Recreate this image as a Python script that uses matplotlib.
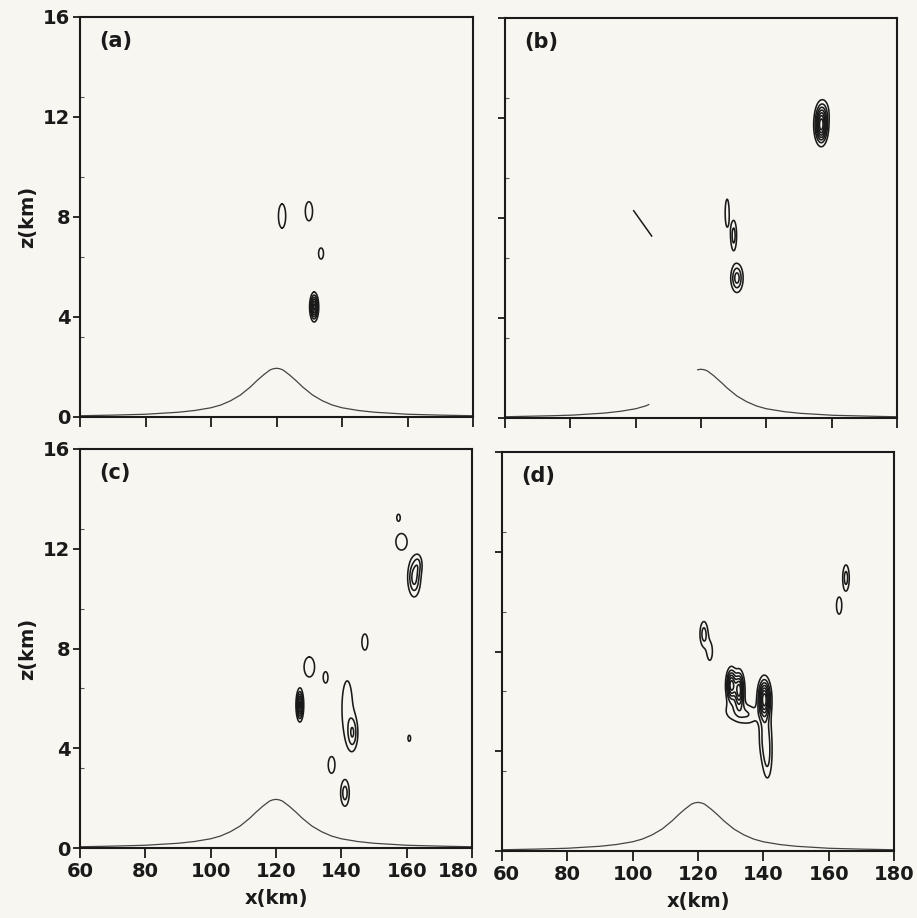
import numpy as np
import matplotlib
matplotlib.use('Agg')
import matplotlib.pyplot as plt
from matplotlib.transforms import ScaledTranslation

# terrain profile (km)
terrain_x = [60, 70, 80, 85, 90, 95, 100, 103, 106, 109, 112, 114, 116, 118, 119, 120,
             121, 122, 124, 126, 128, 131, 134, 137, 140, 145, 150, 155, 160, 170, 180]
terrain_z = [0.05, 0.075, 0.11, 0.15, 0.19, 0.26, 0.37, 0.48, 0.65, 0.88, 1.2, 1.45, 1.68,
             1.88, 1.93, 1.95, 1.93, 1.88, 1.68, 1.45, 1.2, 0.88, 0.65, 0.48, 0.37, 0.26,
             0.19, 0.15, 0.11, 0.075, 0.05]
b_terrain_gap = (104.2, 119.0)   # terrain missing in panel (b)

# contour cells: x centre, z centre, outer half-width (km), outer half-height (km), rings
cells_a = [(121.7, 8.04, 1.1, 0.48, 1),
           (129.9, 8.23, 1.1, 0.38, 1),
           (133.6, 6.54, 0.75, 0.22, 1),
           (131.5, 4.40, 1.4, 0.60, 6)]
cells_b = [(156.8, 11.70, 2.3, 0.85, 7),
           (157.4, 12.30, 1.2, 0.30, 1),
           (128.0, 8.20, 0.6, 0.55, 1),
           (130.0, 7.30, 0.9, 0.60, 2),
           (131.0, 5.60, 1.9, 0.58, 3)]
cells_c = [(157.5, 13.25, 0.5, 0.13, 1),
           (158.4, 12.28, 1.7, 0.33, 1),
           (162.3, 10.85, 2.0, 0.78, 3),
           (163.6, 11.40, 0.8, 0.25, 1),
           (147.2, 8.26, 0.9, 0.32, 1),
           (130.2, 7.26, 1.6, 0.40, 1),
           (135.2, 6.84, 0.7, 0.22, 1),
           (127.3, 5.73, 1.2, 0.68, 6),
           (141.8, 5.60, 1.6, 1.10, 1),
           (143.5, 4.60, 1.4, 0.60, 2),
           (160.8, 4.40, 0.4, 0.12, 1),
           (137.0, 3.33, 1.0, 0.33, 1),
           (141.1, 2.20, 1.3, 0.52, 2)]
cells_d = [(165.3, 10.95, 1.0, 0.52, 2),
           (163.2, 9.84, 0.8, 0.34, 1),
           (121.8, 8.70, 1.2, 0.50, 2),
           (123.6, 8.00, 0.8, 0.35, 1),
           (130.2, 6.65, 1.8, 0.75, 6),
           (132.6, 6.45, 1.8, 0.85, 6),
           (131.4, 5.60, 2.6, 0.30, 1),
           (135.6, 5.45, 2.0, 0.25, 1),
           (140.3, 6.10, 2.3, 0.95, 7),
           (140.6, 4.60, 1.8, 1.00, 2),
           (141.3, 3.60, 0.9, 0.55, 1)]

# stray line segment in panel (b)
b_line_x = [99.4, 104.9]
b_line_z = [8.29, 7.28]

panel_names = ['(a)', '(b)', '(c)', '(d)']
xticks = [60, 80, 100, 120, 140, 160, 180]
yticks = [0, 4, 8, 12, 16]

W, H = 917, 918
paper = '#f7f6f0'
ink = '#1a1a1a'
# axes boxes in pixels: left, top, right, bottom
boxes = [(80, 17, 473, 417), (505, 18, 897, 418), (80, 449, 472, 848), (502, 452, 894, 851)]

plt.rcParams['font.family'] = 'DejaVu Sans'
plt.rcParams['font.weight'] = 'bold'
plt.rcParams['axes.labelweight'] = 'bold'
fig = plt.figure(figsize=(W / 100, H / 100), dpi=100, facecolor=paper)

gx = np.linspace(60, 180, 1201)
gz = np.linspace(0, 16, 801)
GX, GZ = np.meshgrid(gx, gz)


def field(cells):
    f = np.zeros_like(GX)
    for cx, cz, hw, hh, n in cells:
        amp = n + 0.5
        k = np.sqrt(2 * np.log(amp))
        sx, sz = hw / k, hh / k
        f += amp * np.exp(-0.5 * (((GX - cx) / sx) ** 2 + ((GZ - cz) / sz) ** 2))
    return f


for i, (cells, name) in enumerate(zip([cells_a, cells_b, cells_c, cells_d], panel_names)):
    l, t, r, b = boxes[i]
    ax = fig.add_axes([l / W, 1 - b / H, (r - l) / W, (b - t) / H])
    ax.set_facecolor('none')

    tx = np.array(terrain_x, dtype=float)
    tz = np.array(terrain_z, dtype=float)
    if i == 1:
        fx = np.linspace(60, 180, 241)
        fz = np.interp(fx, tx, tz)
        fz[(fx > b_terrain_gap[0]) & (fx < b_terrain_gap[1])] = np.nan
        ax.plot(fx, fz, color='#444444', lw=0.9)
        ax.plot(b_line_x, b_line_z, color=ink, lw=1.1)
    else:
        ax.plot(tx, tz, color='#444444', lw=0.9)

    ax.contour(GX, GZ, field(cells), levels=np.arange(1, 10), colors=ink, linewidths=1.15)

    ax.set_xlim(60, 180)
    ax.set_ylim(0, 16)
    ax.set_xticks(xticks)
    ax.set_yticks(yticks)
    ax.set_yticks(np.arange(0, 16.1, 3.2), minor=True)
    ax.tick_params(which='major', direction='out', length=5, width=1.3, pad=2,
                   labelsize=14, colors=ink)
    ax.tick_params(which='minor', direction='in', length=3, width=0.8, colors='#555555')
    ax.tick_params(axis='x', which='major', length=7, pad=3)
    for s in ax.spines.values():
        s.set_linewidth(1.5)
        s.set_color(ink)

    if i in (0, 2):
        ax.set_ylabel('z(km)', fontsize=14, labelpad=4, color=ink)
    else:
        ax.set_yticklabels([])
    if i in (2, 3):
        ax.set_xlabel('x(km)', fontsize=14, labelpad=6, color=ink)
        labels = ax.get_xticklabels()
        if i == 2:
            lab = labels[-1]
            lab.set_transform(lab.get_transform() + ScaledTranslation(-14 / 100, 0, fig.dpi_scale_trans))
        else:
            lab = labels[0]
            lab.set_transform(lab.get_transform() + ScaledTranslation(4 / 100, 0, fig.dpi_scale_trans))
    else:
        ax.set_xticklabels([])

    ax.text(0.05, 0.94, name, transform=ax.transAxes, fontsize=15,
            ha='left', va='center', color=ink)

plt.savefig('out.png', dpi=100, facecolor=fig.get_facecolor())
plt.close()
